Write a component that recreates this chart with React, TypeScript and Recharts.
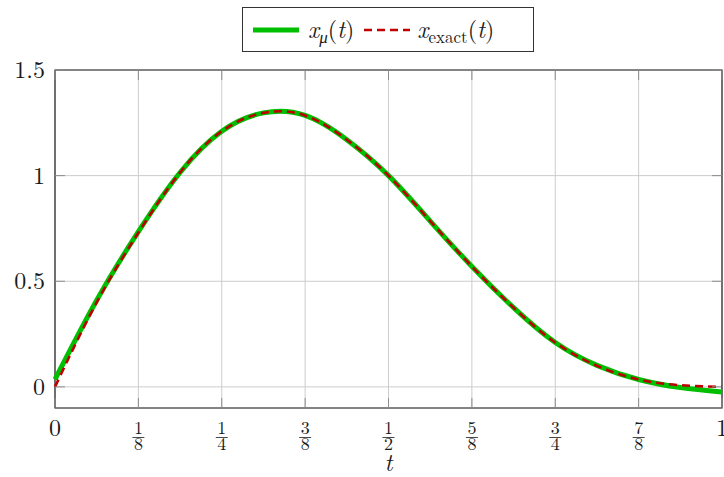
import React from 'react';
import { LineChart, Line, XAxis, YAxis, CartesianGrid, ReferenceArea } from 'recharts';

// sample times and the two curves
const T = [0, 0.0625, 0.125, 0.1875, 0.25, 0.3125, 0.375, 0.4375, 0.5, 0.5625, 0.625, 0.6875, 0.75, 0.8125, 0.875, 0.9375, 1];
const X_EXACT = [0, 0.4, 0.73, 1.015, 1.21, 1.297, 1.285, 1.17, 1.0, 0.785, 0.57, 0.375, 0.21, 0.1, 0.035, 0.008, 0];
const X_MU = [0.035, 0.41, 0.735, 1.015, 1.21, 1.297, 1.285, 1.17, 1.0, 0.785, 0.57, 0.375, 0.21, 0.102, 0.035, -0.003, -0.024];

const X_TICKS = [0, 0.125, 0.25, 0.375, 0.5, 0.625, 0.75, 0.875, 1];
const X_TICK_LABELS = ['0', '1/8', '1/4', '3/8', '1/2', '5/8', '3/4', '7/8', '1'];
const Y_TICKS = [0, 0.5, 1, 1.5];
const Y_TICK_LABELS = ['0', '0.5', '1', '1.5'];

const data = T.map((t, i) => ({ t, exact: X_EXACT[i], mu: X_MU[i] }));

const FONT = "'Latin Modern Roman', 'Liberation Serif', serif";
const TEXT = '#1a1a1a';
const GREEN = '#00bf00';
const RED = '#bf0000';
const TICK_COLOR = '#8c8c8c';
const PLOT_W = 667;
const PLOT_H = 338;

const XTick = (props: any) => {
  const { x, y, payload } = props;
  const label = X_TICK_LABELS[X_TICKS.indexOf(payload.value)];
  const parts = label.split('/');
  return (
    <g>
      <line x1={x} y1={y} x2={x} y2={y - 10} stroke={TICK_COLOR} />
      <line x1={x} y1={y - PLOT_H} x2={x} y2={y - PLOT_H + 10} stroke={TICK_COLOR} />
      {parts.length === 1 ? (
        <text x={x} y={y + 28} textAnchor="middle" fontFamily={FONT} fontSize={24} fill={TEXT}>
          {label}
        </text>
      ) : (
        <g fontFamily={FONT} fontSize={18} fill={TEXT}>
          <text x={x} y={y + 26} textAnchor="middle">{parts[0]}</text>
          <line x1={x - 6} y1={y + 29.5} x2={x + 6} y2={y + 29.5} stroke={TEXT} strokeWidth={0.8} />
          <text x={x} y={y + 42} textAnchor="middle">{parts[1]}</text>
        </g>
      )}
    </g>
  );
};

const YTick = (props: any) => {
  const { x, y, payload } = props;
  const label = Y_TICK_LABELS[Y_TICKS.indexOf(payload.value)];
  return (
    <g>
      <line x1={x} y1={y} x2={x + 10} y2={y} stroke={TICK_COLOR} />
      <line x1={x + PLOT_W} y1={y} x2={x + PLOT_W - 10} y2={y} stroke={TICK_COLOR} />
      <text x={x - 10} y={y + 8} textAnchor="end" fontFamily={FONT} fontSize={24} fill={TEXT}>
        {label}
      </text>
    </g>
  );
};

const TLabel = (props: any) => {
  const { viewBox } = props;
  return (
    <text
      x={viewBox.x + viewBox.width / 2}
      y={viewBox.y + 63}
      textAnchor="middle"
      fontFamily={FONT}
      fontStyle="italic"
      fontSize={24}
      fill={TEXT}
    >
      t
    </text>
  );
};

const LegendBox = () => (
  <div
    style={{
      position: 'absolute',
      left: 242,
      top: 7,
      width: 290,
      height: 43,
      border: '1px solid #333',
      background: '#fff',
      display: 'flex',
      alignItems: 'center',
      fontFamily: FONT,
      fontSize: 24,
      color: TEXT,
      boxSizing: 'content-box',
    }}
  >
    <svg width={46} height={10} style={{ marginLeft: 10 }}>
      <line x1={0} y1={5} x2={46} y2={5} stroke={GREEN} strokeWidth={5} />
    </svg>
    <span style={{ marginLeft: 9, whiteSpace: 'nowrap' }}>
      <i>x</i>
      <sub style={{ fontSize: 17, verticalAlign: '-5px' }}>
        <i>μ</i>
      </sub>
      (<i>t</i>)
    </span>
    <svg width={46} height={10} style={{ marginLeft: 10 }}>
      <line x1={0} y1={5} x2={46} y2={5} stroke={RED} strokeWidth={2.6} strokeDasharray="8 5" />
    </svg>
    <span style={{ marginLeft: 7, whiteSpace: 'nowrap' }}>
      <i>x</i>
      <sub style={{ fontSize: 17, verticalAlign: '-5px' }}>exact</sub>
      (<i>t</i>)
    </span>
  </div>
);

export default function App() {
  return (
    <div style={{ position: 'absolute', left: 0, top: 0, width: 724, height: 477, background: '#fff' }}>
      <LineChart width={724} height={477} data={data} margin={{ top: 70, right: 2, bottom: 0, left: 0 }}>
        <CartesianGrid stroke="#cccccc" strokeWidth={1} />
        <XAxis
          dataKey="t"
          type="number"
          domain={[0, 1]}
          ticks={X_TICKS}
          height={69}
          axisLine={false}
          tickLine={false}
          tickSize={0}
          tickMargin={0}
          tick={<XTick />}
          interval={0}
          label={<TLabel />}
        />
        <YAxis
          type="number"
          domain={[-0.1, 1.5]}
          ticks={Y_TICKS}
          width={55}
          axisLine={false}
          tickLine={false}
          tickSize={0}
          tickMargin={0}
          tick={<YTick />}
          interval={0}
          allowDataOverflow
        />
        <Line
          type="natural"
          dataKey="mu"
          stroke={GREEN}
          strokeWidth={5}
          dot={false}
          activeDot={false}
          isAnimationActive={false}
        />
        <Line
          type="natural"
          dataKey="exact"
          stroke={RED}
          strokeWidth={2.6}
          strokeDasharray="8 5"
          dot={false}
          activeDot={false}
          isAnimationActive={false}
        />
        <ReferenceArea x1={0} x2={1} y1={-0.1} y2={1.5} fill="none" stroke="#222" strokeWidth={1.2} ifOverflow="visible" />
      </LineChart>
      <LegendBox />
    </div>
  );
}
